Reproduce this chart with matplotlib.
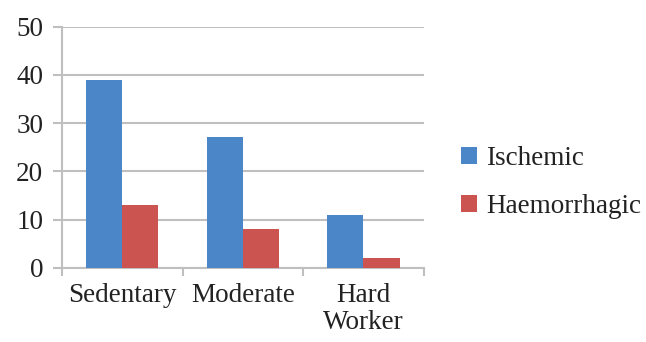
import numpy as np
import matplotlib
matplotlib.use('Agg')
import matplotlib.pyplot as plt
from matplotlib import font_manager

categories = ['Sedentary', 'Moderate', 'Hard\nWorker']
ischemic = [39, 27.2, 11]
haemorrhagic = [13, 8, 2]

plt.rcParams['font.family'] = 'serif'
plt.rcParams['font.serif'] = ['Liberation Serif', 'Times New Roman', 'DejaVu Serif']
print(font_manager.findfont('serif'))
fs = 19.5

fig = plt.figure(figsize=(6.46, 3.42), dpi=100)
ax = fig.add_axes([0.096, 0.217, 0.56, 0.705])

x = np.arange(len(categories))
w = 0.3
ax.bar(x - w / 2, ischemic, w, color='#4A86C8', label='Ischemic', zorder=3)
ax.bar(x + w / 2, haemorrhagic, w, color='#CB5450', label='Haemorrhagic', zorder=3)

ax.set_xlim(-0.5, 2.5)
ax.set_ylim(0, 50)
ax.set_yticks(range(0, 51, 10))
ax.yaxis.grid(True, color='#BFBFBF', linewidth=1.5, zorder=0)
ax.set_xticks([-0.5, 0.5, 1.5, 2.5], minor=True)
ax.set_xticks(x)
ax.set_xticklabels(categories, fontsize=fs, linespacing=1.1, color='#222222')
ax.tick_params(axis='x', which='major', length=0, pad=11)
ax.tick_params(axis='x', which='minor', length=6, width=1.5, color='#BFBFBF')
ax.tick_params(axis='y', length=6.5, width=1.5, color='#BFBFBF', labelsize=fs,
               labelcolor='#222222', pad=7)

for s in ['top', 'right']:
    ax.spines[s].set_visible(False)
for s in ['left', 'bottom']:
    ax.spines[s].set_color('#BFBFBF')
    ax.spines[s].set_linewidth(1.5)

leg = fig.legend(loc='center left', bbox_to_anchor=(0.713, 0.466), frameon=False,
                 fontsize=fs, handlelength=0.6, handleheight=0.6, handletextpad=0.35,
                 labelspacing=0.85, borderpad=0, borderaxespad=0)
for t in leg.get_texts():
    t.set_color('#222222')

fig.savefig('out.png', dpi=100)
